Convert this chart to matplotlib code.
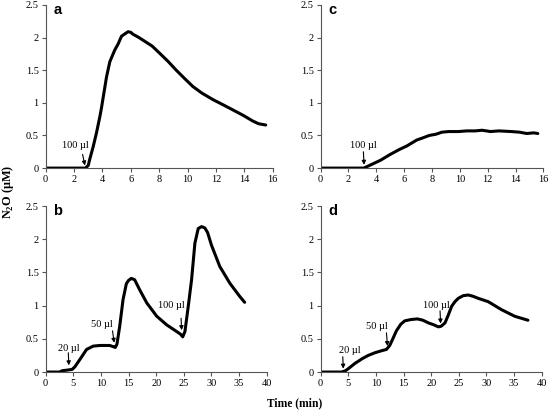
import matplotlib
matplotlib.use("Agg")
import matplotlib.pyplot as plt

# ---- data ----
ta = [0, 2.8, 3.0, 3.1, 3.35, 3.58, 3.82, 3.93, 4.29, 4.52, 4.87, 5.1, 5.34, 5.6, 5.81, 6.0, 6.16, 6.5,
      6.86, 7.5, 8.03, 8.6, 9.2, 9.8, 10.37, 11.0, 11.78, 12.5, 13.2, 13.9, 14.6, 15.0, 15.5]
va = [0, 0, 0.04, 0.13, 0.33, 0.54, 0.79, 0.92, 1.40, 1.63, 1.81, 1.90, 2.02, 2.06, 2.09, 2.08, 2.05, 2.01,
      1.96, 1.87, 1.76, 1.64, 1.50, 1.37, 1.25, 1.15, 1.05, 0.97, 0.89, 0.81, 0.72, 0.68, 0.66]

tc = [0, 3.1, 3.8, 4.3, 5.0, 5.7, 6.2, 6.9, 7.3, 7.8, 8.3, 8.7, 9.2, 9.9, 10.5, 11.1, 11.6, 12.2, 12.8, 13.7,
      14.3, 14.8, 15.3, 15.6]
vc = [0, 0, 0.07, 0.12, 0.21, 0.29, 0.34, 0.43, 0.46, 0.50, 0.52, 0.55, 0.56, 0.56, 0.57, 0.57, 0.58, 0.56,
      0.57, 0.56, 0.55, 0.53, 0.54, 0.53]

tb = [0, 2.5, 3.0, 4.0, 4.8, 5.3, 6.2, 7.4, 8.6, 9.8, 11.6, 12.3, 12.6, 12.9, 13.4, 14.0, 14.6, 15.0, 15.5,
      16.1, 17.0, 18.3, 20.1, 21.9, 23.7, 24.4, 24.8, 25.2, 25.8, 26.4, 27.0, 27.6, 28.2, 28.8, 29.3, 30.0,
      31.5, 33.3, 35.1, 36.0]
vb = [0, 0, 0.02, 0.03, 0.04, 0.08, 0.19, 0.34, 0.39, 0.40, 0.40, 0.38, 0.37, 0.42, 0.69, 1.09, 1.33, 1.38,
      1.41, 1.39, 1.24, 1.04, 0.84, 0.71, 0.61, 0.57, 0.53, 0.61, 0.99, 1.39, 1.94, 2.16, 2.19, 2.17, 2.10,
      1.91, 1.59, 1.34, 1.14, 1.05]

td = [0, 3.8, 4.5, 5.0, 6.2, 7.5, 8.6, 9.8, 11.0, 11.9, 12.5, 13.0, 13.7, 14.5, 15.2, 16.3, 17.5, 18.5, 19.5,
      20.5, 21.3, 21.8, 22.5, 23.1, 23.7, 24.3, 24.9, 25.8, 26.7, 27.6, 28.5, 30.3, 32.7, 35.1, 37.5]
vd = [0, 0, 0.02, 0.05, 0.13, 0.20, 0.25, 0.29, 0.32, 0.34, 0.40, 0.49, 0.62, 0.72, 0.77, 0.79, 0.80, 0.78,
      0.74, 0.71, 0.68, 0.69, 0.74, 0.86, 0.99, 1.06, 1.11, 1.15, 1.16, 1.14, 1.11, 1.06, 0.94, 0.84, 0.78]

yticks = [0, 0.5, 1, 1.5, 2, 2.5]
ytick_labels = ["0", "0.5", "1", "1.5", "2", "2.5"]
xticks_short = list(range(0, 17, 2))
xticks_long = list(range(0, 41, 5))

# annotations: (label, text_x, text_y, arrow_start, arrow_end)
ann_a = [("100 µl", 2.12, 0.34, (2.6, 0.21), (2.77, 0.04))]
ann_c = [("100 µl", 3.05, 0.345, (3.07, 0.25), (3.12, 0.05))]
ann_b = [("20 µl", 4.2, 0.36, (4.1, 0.29), (4.2, 0.10)),
         ("50 µl", 10.1, 0.715, (12.1, 0.62), (12.4, 0.44)),
         ("100 µl", 22.8, 1.0, (24.5, 0.81), (24.6, 0.63))]
ann_d = [("20 µl", 5.3, 0.32, (4.0, 0.23), (4.1, 0.05)),
         ("50 µl", 10.1, 0.68, (11.9, 0.59), (12.1, 0.39)),
         ("100 µl", 20.9, 1.0, (21.6, 0.92), (21.7, 0.73))]

serif = "Liberation Serif"
fig = plt.figure(figsize=(5.5, 4.12), dpi=100)

def make_ax(rect, t, v, xt, xmax, letter, anns):
    ax = fig.add_axes(rect)
    ax.plot(t, v, color="black", lw=2.2, solid_capstyle="round", solid_joinstyle="round")
    ax.set_xlim(0, xmax)
    ax.set_ylim(0, 2.5)
    ax.set_xticks(xt)
    ax.set_xticklabels([str(x) for x in xt], fontfamily=serif, fontsize=7.5)
    ax.set_yticks(yticks)
    ax.set_yticklabels(ytick_labels, fontfamily=serif, fontsize=7.5)
    for s in ["top", "right"]:
        ax.spines[s].set_visible(False)
    for s in ["left", "bottom"]:
        ax.spines[s].set_color("#555555")
        ax.spines[s].set_linewidth(0.8)
    ax.tick_params(direction="out", length=3, width=0.8, color="#555555", pad=2)
    ax.text(0.035, 1.01, letter, transform=ax.transAxes, fontfamily="Liberation Sans",
            fontweight="bold", fontsize=10.5, va="top", ha="left")
    for lab, tx, ty, a0, a1 in anns:
        ax.text(tx, ty, lab, fontfamily=serif, fontsize=7.5, ha="center", va="center")
        ax.annotate("", xy=a1, xytext=a0,
                    arrowprops=dict(arrowstyle="-|>", color="black", lw=0.8,
                                    mutation_scale=6, shrinkA=0, shrinkB=0))
    return ax

make_ax([0.083, 0.592, 0.413, 0.396], ta, va, xticks_short, 16, "a", ann_a)
make_ax([0.583, 0.592, 0.405, 0.396], tc, vc, xticks_short, 16, "c", ann_c)
make_ax([0.083, 0.097, 0.402, 0.403], tb, vb, xticks_long, 40, "b", ann_b)
make_ax([0.583, 0.097, 0.402, 0.403], td, vd, xticks_long, 40, "d", ann_d)

fig.text(0.015, 0.534, "N$_\\mathregular{2}$O (µM)", rotation=90, ha="center", va="center",
         fontfamily=serif, fontweight="bold", fontsize=8.8)
fig.text(0.535, 0.022, "Time (min)", ha="center", va="center",
         fontfamily=serif, fontweight="bold", fontsize=8.3)

fig.savefig("out.png", dpi=100)
